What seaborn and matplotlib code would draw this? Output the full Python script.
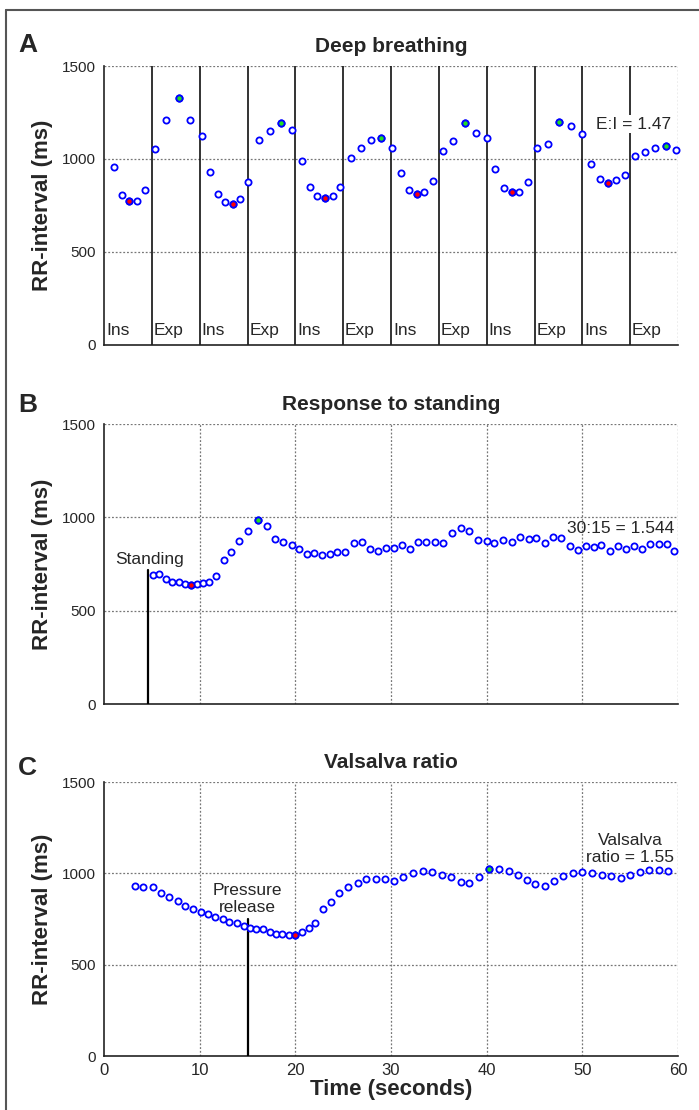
import matplotlib
matplotlib.use('Agg')
import matplotlib.pyplot as plt
import seaborn as sns
import numpy as np
import pandas as pd
from matplotlib.lines import Line2D

# DATA - deep breathing (panel A)
breath_t = [1.05, 1.9, 2.65, 3.4, 4.25, 5.3, 6.5, 7.8, 9.0, 10.2,
            11.1, 11.9, 12.7, 13.45, 14.25, 15.1, 16.2, 17.35, 18.5, 19.7,
            20.7, 21.5, 22.3, 23.1, 23.9, 24.7, 25.8, 26.9, 27.9, 29.0,
            30.1, 31.0, 31.9, 32.7, 33.5, 34.4, 35.4, 36.5, 37.7, 38.9,
            40.0, 40.9, 41.8, 42.6, 43.4, 44.3, 45.3, 46.4, 47.6, 48.8,
            50.0, 50.9, 51.8, 52.7, 53.5, 54.5, 55.5, 56.6, 57.6, 58.7, 59.8]
breath_rr = [957, 806, 774, 774, 835, 1054, 1210, 1326, 1210, 1124,
             930, 812, 767, 756, 783, 878, 1100, 1152, 1194, 1156,
             989, 848, 803, 792, 801, 851, 1004, 1061, 1100, 1113,
             1061, 926, 832, 812, 821, 883, 1045, 1095, 1194, 1142,
             1113, 944, 842, 824, 824, 876, 1061, 1079, 1199, 1177,
             1136, 975, 892, 873, 885, 914, 1018, 1038, 1061, 1072, 1048]
breath_min_idx = [2, 13, 23, 33, 43, 53]
breath_max_idx = [7, 18, 29, 38, 48, 59]
phase_edges = [5, 10, 15, 20, 25, 30, 35, 40, 45, 50, 55]
phase_starts = [0, 5, 10, 15, 20, 25, 30, 35, 40, 45, 50, 55]
phase_labels = ['Ins', 'Exp'] * 6

# DATA - response to standing (panel B)
stand_t = [5.08, 5.8, 6.5, 7.1, 7.8, 8.5, 9.05, 9.7, 10.3, 11.0,
           11.7, 12.5, 13.3, 14.1, 15.1, 16.05, 17.0, 17.9, 18.7, 19.6,
           20.4, 21.2, 22.0, 22.8, 23.6, 24.4, 25.2, 26.1, 26.95, 27.8,
           28.6, 29.5, 30.3, 31.1, 32.0, 32.8, 33.7, 34.6, 35.4, 36.4,
           37.3, 38.2, 39.1, 40.0, 40.8, 41.7, 42.6, 43.5, 44.4, 45.2,
           46.1, 46.9, 47.8, 48.7, 49.5, 50.4, 51.2, 52.0, 52.9, 53.7,
           54.6, 55.4, 56.2, 57.1, 58.0, 58.8, 59.6]
stand_rr = [690, 699, 667, 656, 652, 643, 636, 643, 650, 656,
            685, 769, 812, 871, 925, 984, 952, 885, 867, 851,
            828, 805, 808, 799, 801, 812, 812, 862, 867, 832,
            821, 837, 837, 853, 833, 867, 867, 867, 864, 918,
            943, 926, 880, 871, 860, 880, 867, 894, 883, 887,
            864, 892, 887, 844, 823, 849, 839, 853, 819, 844,
            832, 844, 830, 859, 859, 859, 819]
stand_min_idx = [6]
stand_max_idx = [15]
stand_onset = 4.6

# DATA - Valsalva (panel C)
valsalva_t = [3.2, 4.1, 5.1, 6.0, 6.8, 7.7, 8.5, 9.3, 10.1, 10.9,
              11.6, 12.4, 13.1, 13.9, 14.6, 15.3, 15.9, 16.6, 17.3, 18.0,
              18.6, 19.3, 20.0, 20.7, 21.4, 22.1, 22.9, 23.7, 24.6, 25.5,
              26.5, 27.4, 28.4, 29.4, 30.35, 31.3, 32.3, 33.3, 34.3, 35.3,
              36.3, 37.3, 38.2, 39.2, 40.2, 41.25, 42.3, 43.3, 44.2, 45.1,
              46.1, 47.0, 48.0, 49.0, 50.0, 51.0, 52.1, 53.0, 54.0, 55.0,
              56.0, 57.0, 58.0, 59.0]
valsalva_rr = [930, 927, 927, 892, 870, 847, 821, 807, 790, 777,
               761, 748, 732, 726, 712, 700, 695, 697, 681, 670,
               668, 664, 661, 679, 699, 728, 803, 841, 892, 927,
               949, 971, 967, 967, 956, 980, 1000, 1013, 1006, 993,
               978, 955, 947, 978, 1024, 1024, 1013, 993, 965, 941,
               930, 958, 987, 1000, 1006, 1000, 991, 985, 973, 991,
               1006, 1016, 1020, 1015]
valsalva_min_idx = [22]
valsalva_max_idx = [44]
release_t = 15.0

W, H = 699, 1110
fig = plt.figure(figsize=(W / 100, H / 100), dpi=100)
sns.set_style('white')
plt.rcParams['font.family'] = ['Liberation Sans', 'DejaVu Sans']

# frame around the figure (top and left visible)
fig.add_artist(Line2D([6 / W, 1.0], [1 - 10 / H, 1 - 10 / H], transform=fig.transFigure,
                      color='#555555', lw=1.5))
fig.add_artist(Line2D([6 / W, 6 / W], [0.0, 1 - 10 / H], transform=fig.transFigure,
                      color='#555555', lw=1.5))


def make_axes(top, bottom):
    ax = fig.add_axes([104 / W, 1 - bottom / H, 574 / W, (bottom - top) / H])
    ax.set_xlim(0, 60)
    ax.set_ylim(0, 1500)
    ax.set_yticks([0, 500, 1000, 1500])
    ax.spines['top'].set_visible(False)
    ax.spines['right'].set_visible(False)
    for s in ['left', 'bottom']:
        ax.spines[s].set_color('#222222')
        ax.spines[s].set_linewidth(1.2)
    ax.tick_params(axis='y', direction='out', length=4, width=1, labelsize=11, pad=2)
    ax.tick_params(axis='x', direction='in', length=4, width=1, labelsize=11, pad=5)
    return ax


def draw_points(ax, t, rr, min_idx, max_idx):
    df = pd.DataFrame({'t': t, 'rr': rr})
    sns.scatterplot(data=df, x='t', y='rr', ax=ax, s=20, facecolor='white',
                    edgecolor='blue', linewidth=1.3, zorder=4, clip_on=False)
    sns.scatterplot(data=df.iloc[min_idx], x='t', y='rr', ax=ax, s=20, facecolor='red',
                    edgecolor='blue', linewidth=1.3, zorder=5, clip_on=False)
    sns.scatterplot(data=df.iloc[max_idx], x='t', y='rr', ax=ax, s=20, facecolor='#22dd22',
                    edgecolor='blue', linewidth=1.3, zorder=5, clip_on=False)
    ax.set_xlabel('')
    ax.set_ylabel('RR-interval (ms)', fontsize=16, fontweight='bold', labelpad=6)


grid_kw = dict(color='#777777', lw=0.9, ls=(0, (1.5, 1.5)), zorder=1)

# PANEL A
axA = make_axes(66, 345)
for y in [500, 1000, 1500]:
    axA.axhline(y, **grid_kw)
axA.axvline(60, **grid_kw)
for x in phase_edges:
    axA.axvline(x, color='#111111', lw=1.2, zorder=2)
for x, lab in zip(phase_starts, phase_labels):
    axA.text(x + 0.2, 80, lab, fontsize=12.5, ha='left', va='center')
draw_points(axA, breath_t, breath_rr, breath_min_idx, breath_max_idx)
axA.set_xticks([])
axA.text(59.3, 1188, 'E:I = 1.47', fontsize=12.5, ha='right', va='center',
         bbox=dict(facecolor='white', edgecolor='none', pad=1), zorder=6)
axA.set_title('Deep breathing', fontsize=15, fontweight='bold', pad=10)

# PANEL B
axB = make_axes(424, 704)
for y in [500, 1000, 1500]:
    axB.axhline(y, **grid_kw)
for x in [10, 20, 30, 40, 50, 60]:
    axB.axvline(x, **grid_kw)
draw_points(axB, stand_t, stand_rr, stand_min_idx, stand_max_idx)
axB.plot([stand_onset, stand_onset], [0, 720], color='black', lw=1.6, zorder=3)
axB.text(stand_onset + 0.2, 735, 'Standing', fontsize=12.5, ha='center', va='bottom')
axB.text(59.6, 940, '30:15 = 1.544', fontsize=12.5, ha='right', va='center', zorder=6)
axB.set_xticks([0, 10, 20, 30, 40, 50, 60])
axB.set_xticklabels([])
axB.set_title('Response to standing', fontsize=15, fontweight='bold', pad=10)

# PANEL C
axC = make_axes(782, 1056)
for y in [500, 1000, 1500]:
    axC.axhline(y, **grid_kw)
for x in [10, 20, 30, 40, 50, 60]:
    axC.axvline(x, **grid_kw)
draw_points(axC, valsalva_t, valsalva_rr, valsalva_min_idx, valsalva_max_idx)
axC.plot([release_t, release_t], [0, 752], color='black', lw=1.6, zorder=3)
axC.text(release_t, 770, 'Pressure\nrelease', fontsize=12.5, ha='center', va='bottom',
         linespacing=1.2)
axC.text(55.0, 1045, 'Valsalva\nratio = 1.55', fontsize=12.5, ha='center', va='bottom',
         linespacing=1.2)
axC.set_xticks([0, 10, 20, 30, 40, 50, 60])
axC.tick_params(axis='x', labelsize=12)
axC.set_xlabel('Time (seconds)', fontsize=16, fontweight='bold', labelpad=1)
axC.set_title('Valsalva ratio', fontsize=15, fontweight='bold', pad=10)

# panel letters
for letter, y in [('A', 45), ('B', 405), ('C', 768)]:
    fig.text(18 / W, 1 - y / H, letter, fontsize=19, fontweight='bold', ha='left', va='center')

fig.savefig('out.png', dpi=100)
